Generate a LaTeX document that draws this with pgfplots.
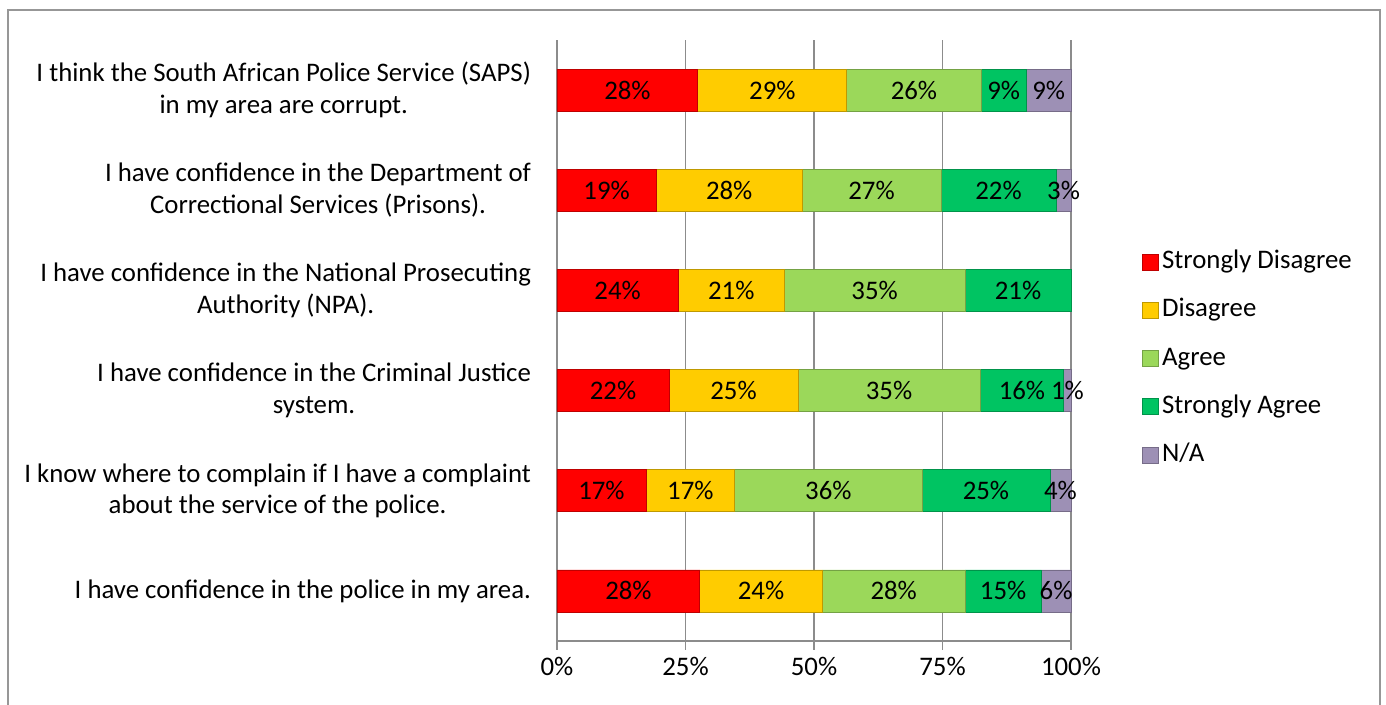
\documentclass[border=0pt]{standalone}
\usepackage{fontspec}
\setmainfont{Carlito}
\usepackage{pgfplots}
\usepackage{pgfplotstable}
\pgfplotsset{compat=1.18}

\definecolor{sdred}{HTML}{FF0000}
\definecolor{dyell}{HTML}{FFCC00}
\definecolor{agrn}{HTML}{9BD85A}
\definecolor{sagrn}{HTML}{00C462}
\definecolor{napur}{HTML}{9D90B5}
\definecolor{gridgray}{HTML}{8C8C8C}

\newcommand{\fsz}{\fontsize{13.4}{15.8}\selectfont}

% shares per statement (y=5 is the top row); l* columns hold the printed percentages
% the NPA row has no N/A share, so it is kept last to leave the stacking of the others intact
\pgfplotstableread{
y  sd   d    a    sa   na   lsd ld la lsa lna
5  27.4 29.0 26.1 8.8  8.7  28  29 26 9   9
4  19.3 28.4 27.0 22.4 2.9  19  28 27 22  3
2  21.8 25.1 35.4 16.3 1.4  22  25 35 16  1
1  17.3 17.3 36.4 24.9 4.1  17  17 36 25  4
0  27.8 23.8 27.8 14.8 5.8  28  24 28 15  6
3  23.6 20.6 35.2 20.6 nan  24  21 35 21  nan
}\survey

\begin{document}
\begin{tikzpicture}[font=\fsz]
\useasboundingbox (0,0) rectangle (693pt,352.5pt);
\draw[gridgray!90, line width=1pt] (4pt,-10pt) rectangle (690pt,347.5pt);
\begin{axis}[
    at={(278.5pt,32pt)}, anchor=south west,
    scale only axis, width=257pt, height=300.5pt,
    xbar stacked, bar width=21pt,
    xmin=0, xmax=100, ymin=-0.5, ymax=5.5,
    clip=false,
    /pgf/number format/assume math mode=true,
    axis lines=left, axis line style={-, draw=gridgray, line width=0.75pt},
    xtick={0,25,50,75,100},
    xticklabels={0\%,25\%,50\%,75\%,100\%},
    xmajorgrids, grid style={draw=gridgray, line width=0.75pt},
    tick align=outside, major tick length=4.5pt,
    xtick style={draw=gridgray, line width=0.75pt},
    ytick={0,...,5},
    yticklabels={
      {I have confidence in the police in my area.},
      {I know where to complain if I have a complaint\\about the service of the police.},
      {I have confidence in the Criminal Justice\\system.},
      {I have confidence in the National Prosecuting\\Authority (NPA).},
      {I have confidence in the Department of\\Correctional Services (Prisons).},
      {I think the South African Police Service (SAPS)\\in my area are corrupt.}},
    ytick style={draw=none},
    extra y ticks={-0.5,0.5,...,5.5},
    extra y tick labels={},
    extra y tick style={grid=none, tick style={draw=gridgray, line width=0.75pt}},
    yticklabel style={align=center, font=\fsz, xshift=-5pt},
    xticklabel style={font=\fsz},
    point meta=explicit,
    nodes near coords={\pgfmathprintnumber{\pgfplotspointmeta}\%},
    every node near coord/.append style={anchor=center, font=\fsz, text=black},
    legend style={at={(1.138,0.470)}, anchor=west, draw=none, fill=none,
      inner sep=0pt, font=\fsz, row sep=8.6pt,
      nodes={inner sep=1.5pt, text height=9.5pt, text depth=3pt}},
    legend cell align=left,
    legend image code/.code={\draw[#1] (0pt,-4pt) rectangle (8pt,4pt);},
  ]
  \addplot[fill=sdred, draw=sdred!75!black] table[x=sd, y=y, meta=lsd] {\survey};
  \addplot[fill=dyell, draw=dyell!75!black] table[x=d, y=y, meta=ld] {\survey};
  \addplot[fill=agrn, draw=agrn!75!black] table[x=a, y=y, meta=la] {\survey};
  \addplot[fill=sagrn, draw=sagrn!75!black] table[x=sa, y=y, meta=lsa] {\survey};
  \addplot[fill=napur, draw=napur!75!black] table[x=na, y=y, meta=lna] {\survey};
  \legend{Strongly Disagree, Disagree, Agree, Strongly Agree, N/A}
\end{axis}
\end{tikzpicture}
\end{document}
